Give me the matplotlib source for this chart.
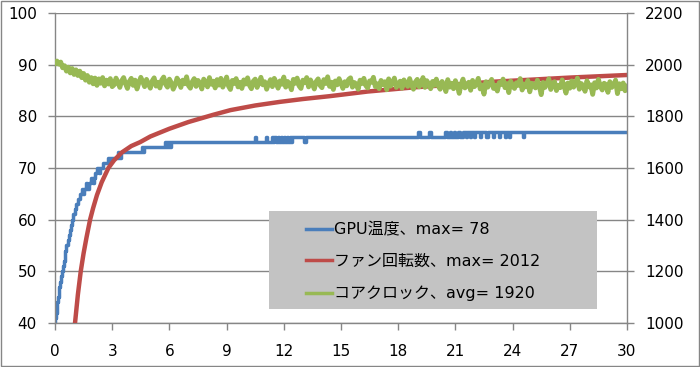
import matplotlib
matplotlib.use("Agg")
import matplotlib.pyplot as plt
from matplotlib.patches import Rectangle
import numpy as np

plt.rcParams['font.family'] = ['DejaVu Sans', 'Noto Sans CJK JP']
plt.rcParams['font.size'] = 11

# --- データ (分) ---
# GPU温度: 変化した時刻と温度 (steps-post)
gpu_time = [0.00, 0.02, 0.05, 0.08, 0.11, 0.15, 0.19, 0.23, 0.27, 0.31, 0.35,
            0.40, 0.45, 0.50, 0.55, 0.60, 0.66, 0.72, 0.78, 0.84, 0.88,
            0.96, 1.04, 1.12, 1.22, 1.30, 1.42, 1.48, 1.53, 1.63, 1.70, 1.76,
            1.88, 1.97, 2.03, 2.12, 2.22, 2.32, 2.38, 2.50, 2.80, 2.88, 2.94,
            3.30, 3.38, 3.44, 4.55, 4.60, 4.66, 5.75, 5.80, 5.86, 5.92, 6.00,
            6.05, 6.10, 10.50, 10.56, 11.05, 11.10, 11.36, 11.42, 11.50, 11.58,
            11.68, 11.74, 11.85, 11.90, 12.00, 12.06, 12.15, 12.20, 12.30, 12.36,
            12.42, 13.05, 13.18, 19.05, 19.12, 19.62, 19.70, 20.45, 20.55, 20.70,
            20.78, 20.95, 21.00, 21.15, 21.25, 21.40, 21.55, 21.60, 21.75, 21.80,
            22.00, 22.05, 22.30, 22.35, 22.60, 22.70, 22.95, 23.00, 23.30, 23.35,
            23.60, 23.65, 23.80, 23.85, 24.55, 24.62, 30.00]
gpu_temp = [40, 41, 42, 43, 44, 45, 46, 47, 48, 49, 50,
            51, 52, 53, 54, 55, 56, 57, 58, 59, 60,
            61, 62, 63, 64, 65, 66, 65, 66, 67, 66, 67,
            68, 67, 68, 69, 70, 69, 70, 71, 72, 71, 72,
            73, 72, 73, 74, 73, 74, 75, 74, 75, 74, 75,
            74, 75, 76, 75, 76, 75, 76, 75, 76, 75,
            76, 75, 76, 75, 76, 75, 76, 75, 76, 75,
            76, 75, 76, 77, 76, 77, 76, 77, 76, 77,
            76, 77, 76, 77, 76, 77, 76, 77, 76, 77,
            76, 77, 76, 77, 76, 77, 76, 77, 76, 77,
            76, 77, 76, 77, 76, 77, 77]

# ファン回転数 (rpm)
fan_time = [0.90, 1.05, 1.20, 1.35, 1.50, 1.65, 1.84, 2.00, 2.20, 2.45,
            2.80, 3.10, 3.50, 4.00, 4.46, 5.00, 6.00, 7.00, 8.30, 9.20,
            10.50, 11.80, 13.00, 14.40, 16.40, 18.80, 21.20, 23.00, 25.00,
            27.00, 28.50, 30.00]
fan_rpm = [930, 1000, 1110, 1200, 1270, 1330, 1400, 1445, 1495, 1545,
           1600, 1630, 1660, 1685, 1700, 1722, 1752, 1778, 1806, 1824,
           1842, 1856, 1867, 1878, 1896, 1912, 1924, 1934, 1942,
           1950, 1955, 1960]

# コアクロック (MHz), 0.1分ごと
clock_mhz = [
    2005, 2014, 2002, 2010, 1988, 1996,
    1975, 1990, 1968, 1985, 1962, 1980, 1958, 1975, 1950, 1966,
    1940, 1958, 1932, 1950, 1926, 1948, 1920, 1945, 1928, 1950, 1918, 1940, 1925, 1946, 1915,
    1922, 1948, 1931, 1912, 1938, 1950, 1926, 1908, 1935, 1947,
    1920, 1940, 1906, 1930, 1951, 1934, 1915, 1943, 1925, 1909,
    1937, 1949, 1917, 1932, 1910, 1941, 1952, 1924, 1913, 1944,
    1930, 1905, 1921, 1948, 1935, 1912, 1940, 1926, 1953, 1919,
    1909, 1934, 1946, 1916, 1939, 1928, 1906, 1944, 1932, 1914,
    1950, 1924, 1936, 1910, 1942, 1921, 1947, 1913, 1931, 1952,
    1917, 1904, 1939, 1927, 1946, 1914, 1932, 1908, 1941, 1925,
    1949, 1920, 1907, 1936, 1944, 1912, 1930, 1951, 1922, 1934,
    1905, 1926, 1942, 1915, 1947, 1931, 1909, 1937, 1924, 1952,
    1913, 1935, 1923, 1903, 1943, 1928, 1948, 1918, 1908, 1940,
    1930, 1950, 1914, 1941, 1925, 1906, 1935, 1945, 1920, 1911,
    1942, 1927, 1953, 1916, 1932, 1904, 1937, 1922, 1946, 1928,
    1908, 1934, 1918, 1943, 1949, 1913, 1931, 1925, 1905, 1940,
    1927, 1947, 1919, 1910, 1937, 1932, 1951, 1915, 1926, 1907,
    1939, 1923, 1934, 1903, 1945, 1917, 1930, 1948, 1912, 1925,
    1936, 1909, 1941, 1927, 1916, 1946, 1922, 1905, 1933, 1943,
    1914, 1929, 1950, 1912, 1938, 1925, 1907, 1935, 1920, 1944,
    1918, 1905, 1935, 1922, 1896, 1942, 1913, 1928, 1907, 1938,
    1920, 1889, 1925, 1944, 1910, 1919, 1932, 1901, 1939, 1915,
    1926, 1947, 1906, 1921, 1886, 1934, 1913, 1928, 1943, 1908,
    1920, 1898, 1931, 1923, 1944, 1911, 1927, 1892, 1936, 1917,
    1908, 1930, 1920, 1946, 1902, 1925, 1914, 1939, 1895, 1928,
    1922, 1910, 1940, 1918, 1884, 1931, 1912, 1926, 1945, 1904,
    1923, 1934, 1900, 1920, 1911, 1941, 1917, 1890, 1929, 1909,
    1937, 1913, 1925, 1948, 1905, 1927, 1918, 1897, 1938, 1914,
    1922, 1885, 1930, 1910, 1943, 1917, 1902, 1928, 1923, 1893,
    1934, 1912, 1921, 1940, 1888, 1926, 1907, 1929, 1899, 1916,
]
clock_time = np.arange(len(clock_mhz)) * 0.1

labels = ['GPU温度、max= 78', 'ファン回転数、max= 2012', 'コアクロック、avg= 1920']
colors = ['#4a7ebb', '#be4b48', '#98b954']
x_ticks = np.arange(0, 31, 3)
left_ticks = np.arange(40, 101, 10)
right_ticks = np.arange(1000, 2201, 200)

axis_color = '#868686'

fig = plt.figure(figsize=(7, 3.67), dpi=100)
ax = fig.add_axes([55 / 700, 1 - 323 / 367, 572 / 700, 310 / 367])
ax2 = ax.twinx()

ax.plot(gpu_time, gpu_temp, drawstyle='steps-post', color=colors[0], lw=2.5,
        label=labels[0])
ax2.plot(fan_time, fan_rpm, color=colors[1], lw=3.2, label=labels[1])
ax2.plot(clock_time, clock_mhz, color=colors[2], lw=3.5, label=labels[2])

ax.set_xlim(0, 30)
ax.set_ylim(40, 100)
ax2.set_ylim(1000, 2200)
ax.set_xticks(x_ticks)
ax.set_yticks(left_ticks)
ax2.set_yticks(right_ticks)

ax.yaxis.grid(True, color=axis_color, lw=1)
ax.set_axisbelow(True)

for a in (ax, ax2):
    for s in a.spines.values():
        s.set_color(axis_color)
        s.set_linewidth(1)
    a.spines['top'].set_visible(False)
ax.spines['right'].set_visible(False)
ax2.spines['left'].set_visible(False)
ax2.spines['bottom'].set_visible(False)

ax.tick_params(axis='both', direction='out', length=5, width=1, color=axis_color,
               pad=8, labelsize=11)
ax.tick_params(axis='x', pad=10)
ax2.tick_params(axis='y', direction='out', length=5, width=1, color=axis_color,
                pad=8, labelsize=11)

# 凡例
rect = Rectangle((269 / 700, 1 - 309 / 367), 328 / 700, 98 / 367,
                 transform=fig.transFigure, facecolor='#c3c3c3',
                 edgecolor='none', zorder=4, clip_on=False)
ax2.add_patch(rect)
h1, l1 = ax.get_legend_handles_labels()
h2, l2 = ax2.get_legend_handles_labels()
leg = ax2.legend(h1 + h2, l1 + l2, loc='upper left',
                 bbox_to_anchor=(306 / 700, 1 - 222 / 367),
                 bbox_transform=fig.transFigure, frameon=False,
                 borderpad=0, borderaxespad=0, handlelength=1.6,
                 handletextpad=0.15, labelspacing=1.05, fontsize=11.5)
leg.set_zorder(5)
for line in leg.get_lines():
    line.set_linewidth(2.5)

fig.add_artist(Rectangle((0.0015, 0.002), 0.997, 0.995, transform=fig.transFigure,
                         facecolor='none', edgecolor=axis_color, lw=1))

fig.savefig('out.png', dpi=100)
